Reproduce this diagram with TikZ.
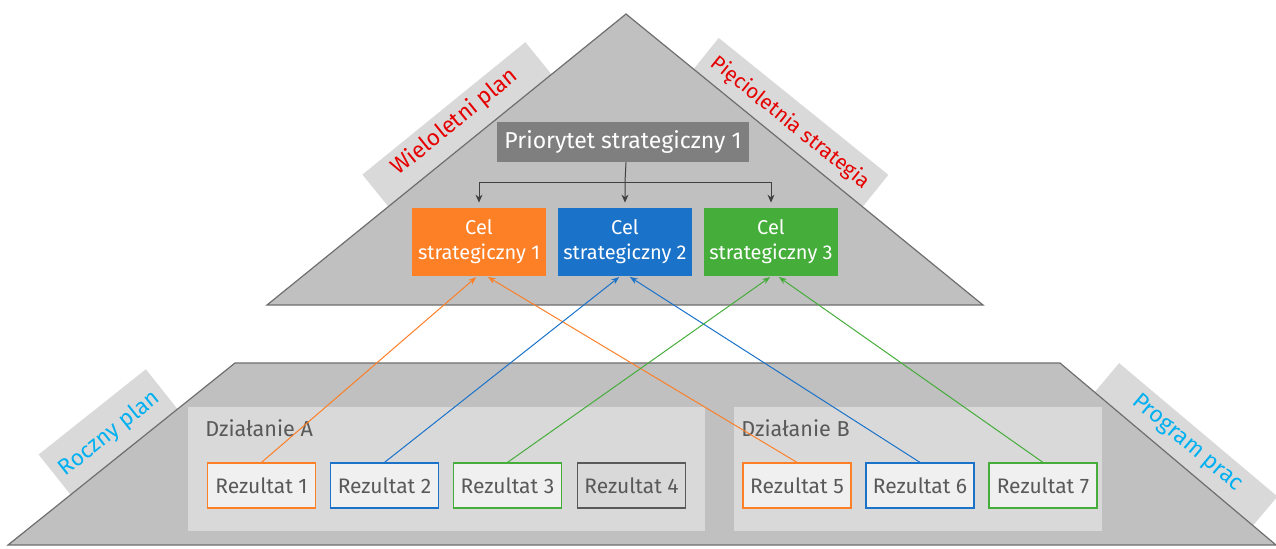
\documentclass[tikz,border=0pt]{standalone}
\usepackage{fontspec}
\setmainfont{Fira Sans}
\usepackage{tikz}
\usetikzlibrary{arrows.meta,positioning}

\definecolor{shapegray}{RGB}{192,192,192}
\definecolor{edgegray}{RGB}{110,110,110}
\definecolor{tagfill}{RGB}{217,217,217}
\definecolor{priogray}{RGB}{127,127,127}
\definecolor{celorange}{RGB}{253,127,38}
\definecolor{celblue}{RGB}{27,114,201}
\definecolor{celgreen}{RGB}{69,173,58}
\definecolor{tagred}{RGB}{230,0,0}
\definecolor{tagcyan}{RGB}{0,176,240}
\definecolor{txtgray}{RGB}{89,89,89}
\definecolor{wynikfill}{RGB}{240,240,240}
\definecolor{darkline}{RGB}{64,64,64}

\begin{document}
\begin{tikzpicture}[x=0.5pt, y=-0.5pt,
    celbox/.style={fill=#1, text=white, minimum width=67pt, minimum height=34pt,
      inner sep=0pt, align=center, font=\fontsize{10}{12.5}\selectfont},
    wynik/.style={draw=#1, fill=wynikfill, text=txtgray, minimum width=54pt,
      minimum height=22.5pt, inner sep=0pt, line width=0.6pt, font=\fontsize{10.5}{12}\selectfont},
    akcja/.style={fill=tagfill, minimum height=62pt, inner sep=0pt},
    tag/.style={fill=tagfill, anchor=base, inner xsep=0pt, inner ysep=3pt,
      text depth=13pt, font=\fontsize{#1}{12}\selectfont},
    link/.style={draw=#1, line width=0.5pt, -{Stealth[length=4pt,width=3pt]}, shorten >=0.5pt},
    tree/.style={draw=darkline, line width=0.5pt, -{Stealth[length=4pt,width=3.5pt]}}]

    \useasboundingbox (0,0) rectangle (1276,548);

    % side labels, partly under the shapes
    \node[tag=11.3, text=tagred, rotate=39.1, minimum width=105pt, text height=9pt] (wpl) at (459,127) {Wieloletni plan};
    \node[tag=10.3, text=tagred, rotate=-38.9, minimum width=109pt, text height=10.5pt] (pst) at (786.6,127.4) {Pięcioletnia strategia};
    \node[tag=11.2, text=tagcyan, rotate=38.5, minimum width=68.5pt, text height=14pt] (rpl) at (113.4,438.5) {Roczny plan};
    \node[tag=11.4, text=tagcyan, rotate=-40.1, minimum width=103.5pt, text height=8.5pt] (ppr) at (1183.5,447.4) {Program prac};

    % triangle and trapezoid
    \filldraw[fill=shapegray, draw=edgegray, line width=0.6pt] (626,14) -- (983,305) -- (267,305) -- cycle;
    \filldraw[fill=shapegray, draw=edgegray, line width=0.6pt] (235,363) -- (1060,363) -- (1276,545) -- (8,545) -- cycle;

    \node[fill=priogray, text=white, minimum width=126pt, minimum height=20pt, inner sep=0pt,
      font=\fontsize{11.5}{12}\selectfont] (prio) at (623,142) {Priorytet strategiczny 1};

    \node[celbox=celorange] (cel1) at (479,242) {Cel\\strategiczny 1};
    \node[celbox=celblue] (cel2) at (625,242) {Cel\\strategiczny 2};
    \node[celbox=celgreen] (cel3) at (771,242) {Cel\\strategiczny 3};

    \coordinate (bus) at (626,182);
    \draw[tree] (prio.south -| bus) -- (bus -| cel2.north) -- ([yshift=2.5pt]cel2.north);
    \draw[tree] (bus) -| ([yshift=2.5pt]cel1.north);
    \draw[tree] (bus) -| ([yshift=2.5pt]cel3.north);

    % actions
    \node[akcja, minimum width=258.5pt] (dzA) at (446.5,469) {};
    \node[akcja, minimum width=184pt] (dzB) at (918,469) {};
    \node[anchor=west, inner sep=0pt, text=txtgray, font=\fontsize{10.8}{12}\selectfont] (dzAlbl) at (205,428) {Działanie A};
    \node[anchor=west, inner sep=0pt, text=txtgray, font=\fontsize{10.8}{12}\selectfont] (dzBlbl) at (741,428) {Działanie B};

    \node[wynik=celorange] (r1) at (261.5,485.5) {Rezultat 1};
    \node[wynik=celblue] (r2) at (384.5,485.5) {Rezultat 2};
    \node[wynik=celgreen] (r3) at (507.5,485.5) {Rezultat 3};
    \node[wynik=txtgray, fill=tagfill] (r4) at (631.5,485.5) {Rezultat 4};
    \node[wynik=celorange] (r5) at (797,485.5) {Rezultat 5};
    \node[wynik=celblue] (r6) at (920,485.5) {Rezultat 6};
    \node[wynik=celgreen] (r7) at (1043,485.5) {Rezultat 7};

    % links to the goals
    \draw[link=celorange] (r1.north) -- ([xshift=-1pt]cel1.south);
    \draw[link=celorange] (r5.north) -- ([xshift=4pt]cel1.south);
    \draw[link=celblue] (r2.north) -- ([xshift=-2.5pt]cel2.south);
    \draw[link=celblue] (r6.north) -- ([xshift=2pt]cel2.south);
    \draw[link=celgreen] (r3.north) -- ([xshift=0pt]cel3.south);
    \draw[link=celgreen] (r7.north) -- ([xshift=3.5pt]cel3.south);
\end{tikzpicture}
\end{document}
